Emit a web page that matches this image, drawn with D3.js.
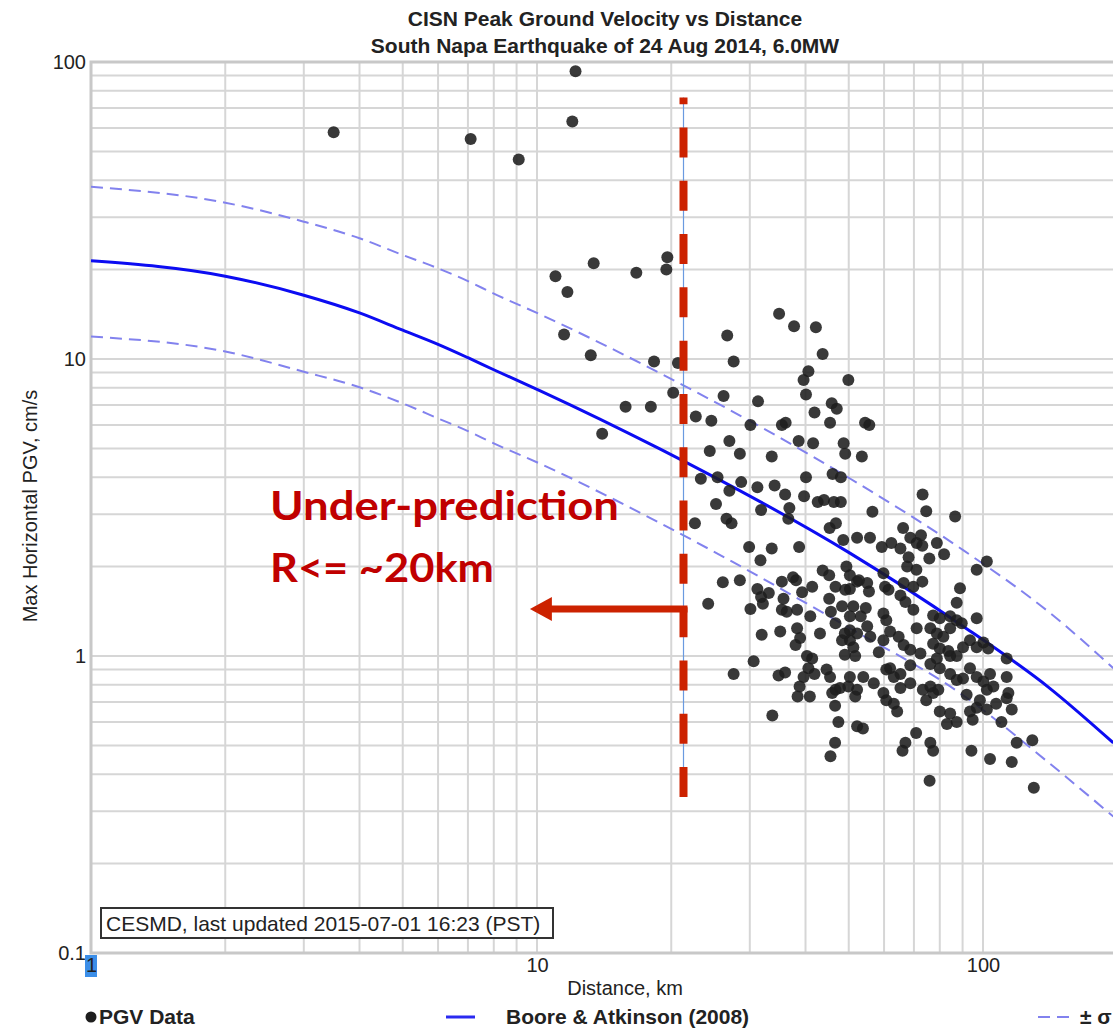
<!DOCTYPE html>
<html>
<head>
<meta charset="utf-8">
<script src="https://cdn.jsdelivr.net/npm/d3@7"></script>
<style>
  body { margin: 0; background: #fff; }
  svg text { font-family: Arial, "Liberation Sans", sans-serif; fill: #222; }
</style>
</head>
<body>
<div id="chart"></div>
<script>
// station PGV readings, [distance km, max horizontal PGV cm/s]
var pgvData = [
  [3.5,58],[7.1,55],[9.1,47],[12.2,93],[12.0,63],[11.0,19],[11.7,16.8],[13.4,21],[16.7,19.5],[19.6,22],
  [19.5,20],[11.5,12.1],[13.2,10.3],[18.3,9.8],[15.8,6.9],[18.0,6.9],[14.0,5.6],[20.2,7.7],[20.7,9.7],
  [34.9,14.2],[37.7,12.9],[42.2,12.8],[26.7,12.0],[43.7,10.4],[27.6,9.8],[40.6,9.1],[39.6,8.5],[49.9,8.5],
  [26.2,7.5],[31.3,7.2],[40.1,7.6],[45.8,7.1],[47.0,6.8],[22.7,6.4],[24.6,6.2],[41.9,6.6],[45.4,6.1],
  [30.1,6.0],[35.4,6.0],[36.1,6.1],[27.0,5.3],[38.6,5.3],[41.6,5.2],[48.7,5.2],[24.4,4.9],[28.5,4.8],
  [33.6,4.7],[49.1,4.8],[53.5,4.7],[40.1,4.0],[46.0,4.1],[48.0,4.0],[23.3,3.95],[25.4,4.0],[28.7,3.85],
  [27.0,3.6],[31.2,3.7],[34.1,3.75],[36.0,3.5],[39.7,3.45],[42.6,3.3],[44.0,3.35],[46.3,3.3],[48.0,3.3],
  [25.2,3.25],[31.8,3.1],[36.8,3.15],[36.6,2.9],[22.6,2.8],[26.6,2.9],[27.3,2.8],[46.8,2.8],[45.3,2.7],
  [48.6,2.46],[52.2,2.5],[29.9,2.33],[33.6,2.3],[38.7,2.33],
  [54.4,6.1],[55.6,6.0],[73.2,3.5],[74.6,3.07],[86.6,2.95],[56.5,3.06],[66.2,2.7],[55.8,2.5],[68.7,2.5],
  [72.6,2.55],[59.3,2.33],[62.3,2.4],[65.3,2.3],[71.0,2.4],[73.1,2.35],[78.8,2.4],
  [81.8,2.2],[75.8,2.13],[68.1,2.15],[67.6,2.0],[70.9,1.95],[102,2.08],[96.8,1.95],[88.8,1.69],[87.3,1.51],
  [96.8,1.34],[59.8,1.9],[60.3,1.71],[61.4,1.67],[50.3,1.87],[52.2,1.78],[55.0,1.76],[55.5,1.65],[50.3,1.68],
  [66.4,1.76],[69.8,1.71],[73.1,1.78],[65.3,1.6],[67.0,1.52],[51.2,1.47],[54.6,1.45],[53.2,1.36],[69.8,1.43],
  [59.8,1.39],[60.7,1.32],[77.3,1.37],[80.0,1.34],[84.4,1.36],[87.3,1.32],[50.3,1.36],[50.3,1.22],[52.2,1.19],
  [55.0,1.26],[55.9,1.16],[71.0,1.24],[76.2,1.24],[78.8,1.19],[81.5,1.16],[61.9,1.21],[64.7,1.16],[84.4,1.24],
  [89.6,1.29],[50.3,1.13],[51.2,1.07],[51.7,1.0],[58.4,1.03],[59.8,1.13],[66.4,1.09],[68.7,1.05],[72.4,1.02],
  [77.3,1.10],[80.0,1.06],[83.6,1.04],[87.3,1.0],[90.2,1.07],[93.5,1.13],[100.2,1.11],[102.7,1.06],[96.8,1.07],
  [113,0.98],[78.8,0.98],[84.4,1.0],[76.2,0.94],[80.0,0.91],[84.4,0.87],[68.7,0.93],[61.9,0.91],[65.3,0.87],
  [50.3,0.85],[53.9,0.85],[52.2,0.77],[56.9,0.81],[60.7,0.9],[63.1,0.85],[93.5,0.91],[90.2,0.84],[96.8,0.85],
  [100.2,0.82],[103.7,0.87],[105.5,0.79],[102,0.77],[113,0.85],[87.3,0.83],[68.7,0.81],[65.3,0.78],[73.3,0.77],
  [76.2,0.79],[77.3,0.75],[79.4,0.77],[74.6,0.71],[59.8,0.75],[60.7,0.71],[63.1,0.69],[64.2,0.65],[91.9,0.74],
  [98.4,0.71],[96.8,0.67],[93.5,0.65],[102,0.66],[107,0.69],[114,0.75],[113,0.72],[116,0.66],[80.0,0.65],
  [84.4,0.64],[83.0,0.59],[87.3,0.6],[94.8,0.61],[110,0.6],[53.8,0.57],[70.8,0.55],[67.0,0.51],[66.0,0.48],
  [76.2,0.51],[77.3,0.48],[94.2,0.48],[103.7,0.45],[116,0.44],[119,0.51],[129,0.52],[75.9,0.38],[130,0.36],
  [31.7,2.1],[26.1,1.77],[28.5,1.8],[24.2,1.5],[31.2,1.68],[33.1,1.63],[31.8,1.58],[32.1,1.5],[30.1,1.44],
  [35.4,1.78],[37.5,1.84],[38.1,1.8],[35.7,1.56],[39.3,1.64],[41.4,1.71],[43.7,1.94],[45.2,1.87],[49.4,2.0],
  [46.7,1.71],[49.1,1.67],[52.7,1.8],[45.2,1.56],[45.6,1.41],[41.0,1.36],[38.3,1.43],[35.4,1.43],[36.3,1.41],
  [48.3,1.47],[46.7,1.29],[49.0,1.19],[48.3,1.13],[49.0,1.01],[31.9,1.18],[35.1,1.21],[38.3,1.24],[38.9,1.15],
  [38.0,1.09],[43.1,1.19],[30.6,0.96],[27.6,0.87],[40.3,1.0],[41.4,0.98],[40.6,0.91],[39.6,0.85],[41.9,0.87],
  [44.6,0.9],[45.4,0.85],[34.8,0.86],[36.0,0.88],[38.8,0.79],[38.4,0.73],[40.9,0.73],[46.7,0.77],[47.8,0.78],
  [49.9,0.79],[45.9,0.75],[51.7,0.73],[46.6,0.68],[47.4,0.6],[33.7,0.63],[46.6,0.51],[45.5,0.46],[52.2,0.58]
];

// Boore & Atkinson (2008) curves
var curveDistKm   = [1, 2, 3, 4, 5, 6, 7, 8, 10.2, 18.9, 50.3, 88.8, 141, 196];
var medianPgv     = [21.4, 19.0, 16.4, 14.3, 12.5, 11.2, 10.1, 9.2, 7.8, 4.97, 2.22, 1.28, 0.78, 0.51];
var plusSigmaPgv  = [38.0, 33.6, 29.0, 25.5, 22.4, 20.2, 18.3, 16.6, 14.1, 8.95, 3.96, 2.31, 1.40, 0.91];
var minusSigmaPgv = [11.9, 10.6, 9.06, 8.03, 7.09, 6.31, 5.72, 5.20, 4.43, 2.80, 1.24, 0.75, 0.435, 0.288];

var xLabels = [1, 10, 100];
var yLabels = [0.1, 1, 10, 100];
var titleLines = ['CISN Peak Ground Velocity vs Distance', 'South Napa Earthquake of 24 Aug 2014, 6.0MW'];
var noteLines = ['Under-prediction', 'R<= ~20km'];
var cutoffKm = 21.2;

(function () {
  var w = 1113
    , h = 1029
    , plotLeft = 91
    , plotTop = 62
    , plotBottom = 953
    , decadeX = 446
    ;

  var x = d3.scaleLog().domain([1, 1000]).range([plotLeft, plotLeft + 3 * decadeX])
    , y = d3.scaleLog().domain([0.1, 100]).range([plotBottom, plotTop])
    ;

  var svg = d3.select('#chart').append('svg')
              .attr('width', w).attr('height', h)
    , defs = svg.append('defs')
    ;

  defs.append('clipPath').attr('id', 'plot')
    .append('rect').attr('x', plotLeft).attr('y', plotTop)
    .attr('width', w - plotLeft).attr('height', plotBottom - plotTop);

  // title
  svg.selectAll('text.title').data(titleLines).enter()
    .append('text').attr('class', 'title')
    .attr('x', 605).attr('y', function (d, i) { return 26 + i * 27; })
    .attr('text-anchor', 'middle')
    .style('font-size', '21px').style('font-weight', 'bold')
    .text(function (d) { return d; });

  // grid
  var grid = svg.append('g').attr('clip-path', 'url(#plot)');

  grid.selectAll('line.gx').data(x.ticks())
    .enter().append('line').attr('class', 'gx')
    .attr('x1', function (d) { return x(d); }).attr('x2', function (d) { return x(d); })
    .attr('y1', plotTop).attr('y2', plotBottom)
    .attr('stroke', '#d6d6d6').attr('stroke-width', 2);

  grid.selectAll('line.gy').data(y.ticks())
    .enter().append('line').attr('class', 'gy')
    .attr('y1', function (d) { return y(d); }).attr('y2', function (d) { return y(d); })
    .attr('x1', plotLeft).attr('x2', w)
    .attr('stroke', '#d6d6d6').attr('stroke-width', 2);

  // frame
  svg.append('path')
    .attr('d', 'M' + w + ',' + plotTop + 'H' + plotLeft + 'V' + plotBottom + 'H' + w)
    .attr('fill', 'none').attr('stroke', '#c8c8c8').attr('stroke-width', 3);

  // axes labels
  var yAxis = svg.append('g').attr('transform', 'translate(' + plotLeft + ',0)')
    .call(d3.axisLeft(y).tickValues(yLabels).tickSize(0).tickPadding(5)
          .tickFormat(function (d) { return String(d); }));
  yAxis.select('.domain').remove();
  yAxis.selectAll('text').style('font-size', '20px').style('font-family', null).attr('fill', '#333');

  var xAxis = svg.append('g').attr('transform', 'translate(0,' + plotBottom + ')');
  xAxis.append('rect').attr('x', x(1) - 6).attr('y', 2).attr('width', 12).attr('height', 22)
    .attr('fill', '#3b8ee8');
  xAxis.call(d3.axisBottom(x).tickValues(xLabels).tickSize(0).tickPadding(5)
          .tickFormat(function (d) { return String(d); }));
  xAxis.select('.domain').remove();
  xAxis.selectAll('text').style('font-size', '20px').style('font-family', null).attr('fill', '#333');

  svg.append('text')
    .attr('transform', 'translate(37,506) rotate(-90)')
    .attr('text-anchor', 'middle').style('font-size', '20px')
    .text('Max Horizontal PGV, cm/s');

  svg.append('text')
    .attr('x', 625).attr('y', 995)
    .attr('text-anchor', 'middle').style('font-size', '20px')
    .text('Distance, km');

  // curves
  var line = d3.line()
    .x(function (d) { return x(d[0]); })
    .y(function (d) { return y(d[1]); })
    .curve(d3.curveMonotoneX);

  function pairs(vals) {
    return curveDistKm.map(function (k, i) { return [k, vals[i]]; });
  }

  var curves = svg.append('g').attr('clip-path', 'url(#plot)');

  curves.selectAll('path.sigma').data([plusSigmaPgv, minusSigmaPgv])
    .enter().append('path').attr('class', 'sigma')
    .attr('d', function (d) { return line(pairs(d)); })
    .attr('fill', 'none').attr('stroke', '#8282ee').attr('stroke-width', 2)
    .attr('stroke-dasharray', '12,7');

  curves.append('path')
    .attr('d', line(pairs(medianPgv)))
    .attr('fill', 'none').attr('stroke', '#0c0cf2').attr('stroke-width', 3);

  // data points
  svg.append('g').selectAll('circle').data(pgvData)
    .enter().append('circle')
    .attr('cx', function (d) { return x(d[0]); })
    .attr('cy', function (d) { return y(d[1]); })
    .attr('r', 6)
    .attr('fill', '#1e1e1e').attr('fill-opacity', 0.88);

  // CESMD stamp
  svg.append('rect').attr('x', 101).attr('y', 908).attr('width', 452).attr('height', 30)
    .attr('fill', '#fff').attr('stroke', '#333').attr('stroke-width', 2);
  svg.append('text').attr('x', 106).attr('y', 931).style('font-size', '21px')
    .text('CESMD, last updated 2015-07-01 16:23 (PST)');

  // under-prediction annotation: thin blue guide under red dashes
  var cx = Math.round(x(cutoffKm)) + 0.5;
  svg.append('line')
    .attr('x1', cx).attr('x2', cx).attr('y1', y(0.335)).attr('y2', y(76))
    .attr('stroke', '#6a9ae0').attr('stroke-width', 1.2);
  svg.append('line')
    .attr('x1', cx).attr('x2', cx).attr('y1', y(0.335)).attr('y2', y(76))
    .attr('stroke', '#cc2200').attr('stroke-width', 8)
    .attr('stroke-dasharray', '30,23.3');

  var ay = y(1.44)
    , tip = x(9.64)
    ;
  svg.append('line')
    .attr('x1', cx + 4).attr('x2', tip + 20).attr('y1', ay).attr('y2', ay)
    .attr('stroke', '#cc2200').attr('stroke-width', 7);
  svg.append('path')
    .attr('d', 'M' + tip + ',' + ay + 'L' + (tip + 22) + ',' + (ay - 12) + 'L' + (tip + 22) + ',' + (ay + 12) + 'Z')
    .attr('fill', '#cc2200');

  svg.selectAll('text.note').data(noteLines).enter()
    .append('text').attr('class', 'note')
    .attr('x', 270).attr('y', function (d, i) { return 520 + i * 62; })
    .attr('textLength', function (d, i) { return i === 0 ? 349 : 224; })
    .attr('lengthAdjust', 'spacingAndGlyphs')
    .style('font-family', 'Lato, "Open Sans", sans-serif')
    .style('font-size', '40px').style('font-weight', 'bold')
    .style('fill', '#c00000')
    .text(function (d) { return d; });

  // legend
  var lg = svg.append('g').attr('transform', 'translate(0,1017)');
  lg.append('circle').attr('cx', 91).attr('cy', 0).attr('r', 5.5).attr('fill', '#1e1e1e');
  lg.append('text').attr('x', 99).attr('y', 7).style('font-size', '21px').style('font-weight', 'bold')
    .text('PGV Data');
  lg.append('line').attr('x1', 446).attr('x2', 475).attr('y1', 0).attr('y2', 0)
    .attr('stroke', '#2a2af0').attr('stroke-width', 3);
  lg.append('text').attr('x', 506).attr('y', 7).style('font-size', '21px').style('font-weight', 'bold')
    .text('Boore & Atkinson (2008)');
  lg.append('line').attr('x1', 1038).attr('x2', 1071).attr('y1', 0).attr('y2', 0)
    .attr('stroke', '#8282ee').attr('stroke-width', 2).attr('stroke-dasharray', '12,7');
  lg.append('text').attr('x', 1080).attr('y', 7).style('font-size', '21px').style('font-weight', 'bold')
    .text('± σ');
})();
</script>
</body>
</html>
